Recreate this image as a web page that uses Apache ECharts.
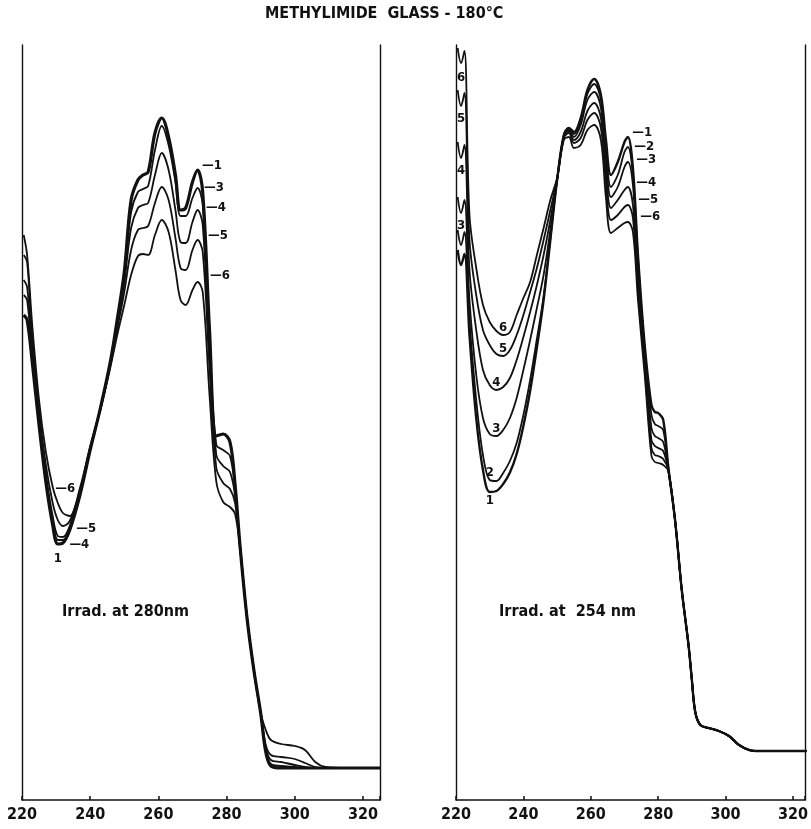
<!DOCTYPE html>
<html>
<head>
<meta charset="utf-8">
<title>Methylimide glass -180°C</title>
<script src="https://cdn.jsdelivr.net/npm/echarts@6/dist/echarts.min.js"></script>
<style>
html, body { margin: 0; padding: 0; background: #fff; }
#chart { width: 811px; height: 829px; }
</style>
</head>
<body>
<div id="chart"></div>
<script>
// wavelengths (nm), left panel : irradiated at 280 nm
const wlLeft = [220.5, 221.5, 223, 225, 227, 229, 230.5, 232, 234, 237, 240, 243, 246, 248, 250, 252, 254, 255.5, 257, 259, 261, 263, 265, 266.5, 268, 270, 271.5, 273, 275, 277, 279, 281, 282.5, 284, 286, 288, 290, 291.5, 293, 296, 300, 303, 306, 309, 315, 325];
const left1 = [0.970, 0.960, 0.876, 0.750, 0.636, 0.550, 0.512, 0.514, 0.540, 0.610, 0.700, 0.784, 0.880, 0.964, 1.056, 1.200, 1.240, 1.250, 1.256, 1.334, 1.364, 1.326, 1.250, 1.180, 1.184, 1.236, 1.260, 1.216, 0.940, 0.728, 0.732, 0.716, 0.630, 0.504, 0.364, 0.260, 0.174, 0.096, 0.068, 0.064, 0.064, 0.064, 0.064, 0.064, 0.064, 0.064];
const left3 = [1.010, 1.000, 0.890, 0.756, 0.644, 0.558, 0.520, 0.520, 0.544, 0.612, 0.700, 0.784, 0.878, 0.958, 1.046, 1.176, 1.216, 1.222, 1.228, 1.300, 1.348, 1.310, 1.236, 1.168, 1.168, 1.204, 1.224, 1.190, 0.910, 0.710, 0.700, 0.688, 0.620, 0.504, 0.364, 0.260, 0.174, 0.100, 0.072, 0.068, 0.066, 0.064, 0.064, 0.064, 0.064, 0.064];
const left4 = [1.040, 1.026, 0.904, 0.764, 0.652, 0.568, 0.528, 0.526, 0.548, 0.614, 0.702, 0.784, 0.876, 0.952, 1.034, 1.144, 1.184, 1.190, 1.194, 1.250, 1.294, 1.260, 1.180, 1.116, 1.114, 1.156, 1.180, 1.150, 0.890, 0.690, 0.668, 0.656, 0.608, 0.504, 0.364, 0.260, 0.174, 0.104, 0.080, 0.076, 0.070, 0.066, 0.064, 0.064, 0.064, 0.064];
const left5 = [1.090, 1.076, 0.924, 0.780, 0.670, 0.594, 0.560, 0.548, 0.558, 0.620, 0.704, 0.782, 0.872, 0.944, 1.016, 1.100, 1.140, 1.144, 1.148, 1.194, 1.226, 1.200, 1.124, 1.064, 1.060, 1.100, 1.120, 1.096, 0.864, 0.664, 0.634, 0.622, 0.594, 0.502, 0.364, 0.260, 0.174, 0.110, 0.090, 0.086, 0.082, 0.074, 0.066, 0.064, 0.064, 0.064];
const left6 = [1.130, 1.090, 0.950, 0.800, 0.696, 0.626, 0.594, 0.574, 0.568, 0.624, 0.708, 0.780, 0.868, 0.932, 0.990, 1.050, 1.088, 1.092, 1.090, 1.130, 1.160, 1.136, 1.060, 1.000, 0.990, 1.020, 1.036, 1.016, 0.810, 0.636, 0.596, 0.586, 0.572, 0.500, 0.364, 0.260, 0.174, 0.140, 0.120, 0.112, 0.108, 0.100, 0.076, 0.066, 0.064, 0.064];

// wavelengths (nm), right panel : irradiated at 254 nm
const wlRight = [220.5, 221.5, 222.5, 224, 226, 228, 230, 232, 234, 236, 238, 240, 242, 244, 246, 248, 250, 252, 253.5, 255, 257, 259, 261, 263, 264.5, 266, 268, 270, 271, 272.5, 274, 276, 278, 279, 280, 281.5, 283, 285, 287, 289, 290, 291, 292.5, 295, 298, 301, 304, 307, 310, 324];
// all six curves coincide beyond 284 nm
const rightTail = [0.560, 0.420, 0.310, 0.240, 0.176, 0.150, 0.144, 0.138, 0.128, 0.110, 0.100, 0.098, 0.098];
const right1 = [1.100, 1.070, 1.092, 0.930, 0.764, 0.660, 0.616, 0.618, 0.632, 0.655, 0.692, 0.748, 0.818, 0.905, 1.000, 1.120, 1.240, 1.330, 1.344, 1.336, 1.364, 1.420, 1.442, 1.410, 1.320, 1.250, 1.276, 1.316, 1.326, 1.264, 1.090, 0.910, 0.790, 0.776, 0.774, 0.760, 0.666].concat(rightTail);
const right2 = [1.140, 1.110, 1.136, 0.960, 0.800, 0.690, 0.640, 0.638, 0.654, 0.678, 0.714, 0.770, 0.840, 0.922, 1.008, 1.124, 1.240, 1.330, 1.344, 1.332, 1.358, 1.412, 1.432, 1.400, 1.300, 1.226, 1.250, 1.296, 1.306, 1.250, 1.084, 0.900, 0.770, 0.752, 0.748, 0.740, 0.664].concat(rightTail);
const right3 = [1.206, 1.174, 1.200, 1.000, 0.850, 0.764, 0.732, 0.728, 0.740, 0.764, 0.804, 0.860, 0.920, 0.984, 1.050, 1.140, 1.240, 1.328, 1.340, 1.326, 1.350, 1.400, 1.416, 1.384, 1.280, 1.206, 1.226, 1.266, 1.276, 1.230, 1.070, 0.890, 0.744, 0.728, 0.724, 0.716, 0.662].concat(rightTail);
const right4 = [1.316, 1.284, 1.310, 1.060, 0.940, 0.860, 0.830, 0.820, 0.826, 0.844, 0.880, 0.926, 0.976, 1.030, 1.090, 1.160, 1.240, 1.326, 1.338, 1.320, 1.336, 1.378, 1.394, 1.364, 1.256, 1.184, 1.200, 1.220, 1.226, 1.190, 1.040, 0.876, 0.720, 0.708, 0.704, 0.698, 0.660].concat(rightTail);
const right5 = [1.420, 1.388, 1.414, 1.120, 1.010, 0.940, 0.910, 0.892, 0.888, 0.900, 0.930, 0.970, 1.016, 1.064, 1.120, 1.180, 1.242, 1.324, 1.334, 1.314, 1.324, 1.360, 1.374, 1.344, 1.232, 1.160, 1.170, 1.186, 1.190, 1.164, 1.020, 0.864, 0.704, 0.690, 0.688, 0.682, 0.660].concat(rightTail);
const right6 = [1.504, 1.474, 1.498, 1.170, 1.064, 0.990, 0.956, 0.938, 0.930, 0.936, 0.970, 1.004, 1.036, 1.090, 1.144, 1.200, 1.244, 1.320, 1.326, 1.304, 1.310, 1.340, 1.350, 1.320, 1.204, 1.134, 1.144, 1.154, 1.156, 1.136, 1.000, 0.850, 0.688, 0.676, 0.674, 0.670, 0.658].concat(rightTail);

const xTicks = [220, 240, 260, 280, 300, 320];

const FONT = "'DejaVu Sans Condensed', 'DejaVu Sans', sans-serif";
const INK = "#111";

let myChart = echarts.init(document.getElementById("chart"));

// curve number tags sit on a point of the curve
const tag = (wls, vals, wl, text, position, offset) => ({
  coord: [wl, vals[wls.indexOf(wl)]],
  label: { formatter: text, position: position, offset: offset || [0, 0] },
});

const makeSeries = (name, wls, vals, idx, width, tags) => ({
  name: name,
  type: "line",
  xAxisIndex: idx,
  yAxisIndex: idx * 2,
  data: wls.map((w, i) => [w, vals[i]]),
  smooth: 0.35,
  showSymbol: false,
  symbol: "none",
  lineStyle: { color: INK, width: width },
  markPoint: {
    symbol: "circle",
    symbolSize: 1,
    itemStyle: { color: "rgba(0,0,0,0)" },
    label: {
      show: true,
      color: INK,
      fontFamily: FONT,
      fontWeight: "bold",
      fontSize: 13,
      distance: 2,
    },
    data: tags,
  },
});

const seriesList = [
  makeSeries("L1", wlLeft, left1, 0, 3.2, [
    tag(wlLeft, left1, 271.5, "—1", "right", [2, -4]),
    tag(wlLeft, left1, 230.5, "1", "bottom", [0, 6]),
  ]),
  makeSeries("L3", wlLeft, left3, 0, 1.8, [
    tag(wlLeft, left3, 271.5, "—3", "right", [4, 0]),
  ]),
  makeSeries("L4", wlLeft, left4, 0, 1.8, [
    tag(wlLeft, left4, 271.5, "—4", "right", [6, -2]),
    tag(wlLeft, left4, 232, "—4", "right", [4, 8]),
  ]),
  makeSeries("L5", wlLeft, left5, 0, 1.8, [
    tag(wlLeft, left5, 271.5, "—5", "right", [8, -4]),
    tag(wlLeft, left5, 234, "—5", "right", [4, 8]),
  ]),
  makeSeries("L6", wlLeft, left6, 0, 1.8, [
    tag(wlLeft, left6, 271.5, "—6", "right", [10, -6]),
    tag(wlLeft, left6, 229, "—6", "right", [0, 2]),
  ]),
  makeSeries("R1", wlRight, right1, 1, 2.4, [
    tag(wlRight, right1, 271, "—1", "right", [2, -4]),
    tag(wlRight, right1, 230, "1", "bottom", [0, 0]),
  ]),
  makeSeries("R2", wlRight, right2, 1, 1.8, [
    tag(wlRight, right2, 271, "—2", "right", [4, 0]),
    tag(wlRight, right2, 230, "2", "top", [0, 2]),
  ]),
  makeSeries("R3", wlRight, right3, 1, 1.8, [
    tag(wlRight, right3, 271, "—3", "right", [6, -2]),
    tag(wlRight, right3, 232, "3", "top", [0, 2]),
    tag(wlRight, right3, 221.5, "3", "bottom", [0, 4]),
  ]),
  makeSeries("R4", wlRight, right4, 1, 1.8, [
    tag(wlRight, right4, 271, "—4", "right", [6, -4]),
    tag(wlRight, right4, 232, "4", "top", [0, 2]),
    tag(wlRight, right4, 221.5, "4", "bottom", [0, 4]),
  ]),
  makeSeries("R5", wlRight, right5, 1, 1.8, [
    tag(wlRight, right5, 271, "—5", "right", [8, -5]),
    tag(wlRight, right5, 234, "5", "top", [0, 2]),
    tag(wlRight, right5, 221.5, "5", "bottom", [0, 4]),
  ]),
  makeSeries("R6", wlRight, right6, 1, 1.8, [
    tag(wlRight, right6, 271, "—6", "right", [10, -5]),
    tag(wlRight, right6, 234, "6", "top", [0, 2]),
    tag(wlRight, right6, 221.5, "6", "bottom", [0, 6]),
  ]),
];

const xAxisFor = (gridIndex, max) => ({
  type: "value",
  gridIndex: gridIndex,
  min: 220,
  max: max,
  interval: 20,
  axisLine: { show: true, onZero: false, lineStyle: { color: INK, width: 1.6 } },
  axisTick: { show: true, inside: true, length: 4, lineStyle: { color: INK, width: 1.5 } },
  splitLine: { show: false },
  axisLabel: {
    color: INK,
    fontFamily: FONT,
    fontWeight: "bold",
    fontSize: 16,
    margin: 7,
    customValues: xTicks,
  },
});

const yAxisFor = (gridIndex, position) => ({
  type: "value",
  gridIndex: gridIndex,
  position: position,
  min: 0,
  max: 1.51,
  axisLine: { show: true, onZero: false, lineStyle: { color: INK, width: 1.4 } },
  axisTick: { show: false },
  axisLabel: { show: false },
  splitLine: { show: false },
});

const textStyle = (size) => ({
  fill: INK,
  font: "bold " + size + "px " + FONT,
});

option = {
  animation: false,
  backgroundColor: "#fff",
  grid: [
    { left: 22, width: 358, top: 45, bottom: 29 },
    { left: 456, width: 353, top: 45, bottom: 29 },
  ],
  xAxis: [xAxisFor(0, 325), xAxisFor(1, 323.5)],
  yAxis: [
    yAxisFor(0, "left"),
    yAxisFor(0, "right"),
    yAxisFor(1, "left"),
    yAxisFor(1, "right"),
  ],
  graphic: [
    { type: "text", left: 265, top: 6, style: Object.assign({ text: "METHYLIMIDE  GLASS - 180°C" }, textStyle(16)) },
    { type: "text", left: 62, top: 604, style: Object.assign({ text: "Irrad. at 280nm" }, textStyle(16)) },
    { type: "text", left: 499, top: 604, style: Object.assign({ text: "Irrad. at  254 nm" }, textStyle(16)) },
  ],
  series: seriesList,
};

option && myChart.setOption(option);
</script>
</body>
</html>
